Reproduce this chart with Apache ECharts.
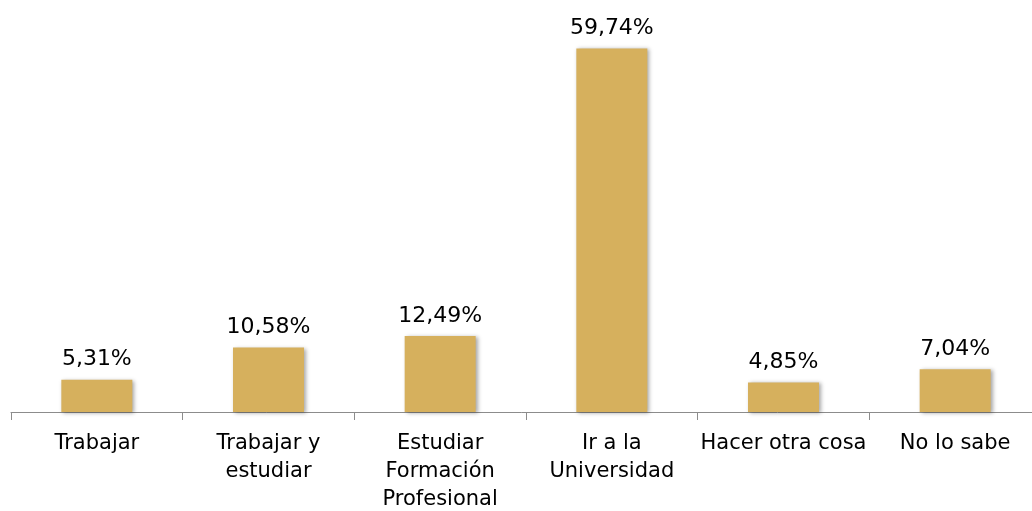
<!DOCTYPE html>
<html><head><meta charset="utf-8">
<script src="https://cdn.jsdelivr.net/npm/echarts@6/dist/echarts.min.js"></script>
<style>html,body{margin:0;padding:0;background:#fff}#c{width:1032px;height:511px}</style>
</head><body><div id="c"></div>
<script>
const categories = ["Trabajar", "Trabajar y\nestudiar", "Estudiar\nFormación\nProfesional", "Ir a la\nUniversidad", "Hacer otra cosa", "No lo sabe"];
const values = [5.31, 10.58, 12.49, 59.74, 4.85, 7.04];

const chart = echarts.init(document.getElementById('c'), null, {renderer: 'canvas'});
chart.setOption({
  animation: false,
  grid: {left: 11, width: 1030, top: 0, bottom: 99, containLabel: false, outerBoundsMode: 'none'},
  xAxis: {
    type: 'category', data: categories,
    axisLine: {lineStyle: {color: '#8c8c8c', width: 1}},
    axisTick: {show: true, length: 8, alignWithLabel: false, lineStyle: {color: '#8c8c8c'}},
    axisLabel: {interval: 0, margin: 18, color: '#000', fontFamily: 'DejaVu Sans', fontSize: 21, lineHeight: 28}
  },
  yAxis: {type: 'value', min: 0, max: 67.7, show: false, splitLine: {show: false}},
  series: [{
    type: 'bar', data: values, barWidth: 71,
    itemStyle: {color: '#D6B05D', shadowBlur: 4, shadowColor: 'rgba(0,0,0,0.35)', shadowOffsetX: 2, shadowOffsetY: 1},
    label: {show: true, position: 'top', distance: 9, color: '#000', fontFamily: 'DejaVu Sans', fontSize: 22,
      formatter: p => p.value.toFixed(2).replace('.', ',') + '%'}
  }]
});
</script></body></html>
